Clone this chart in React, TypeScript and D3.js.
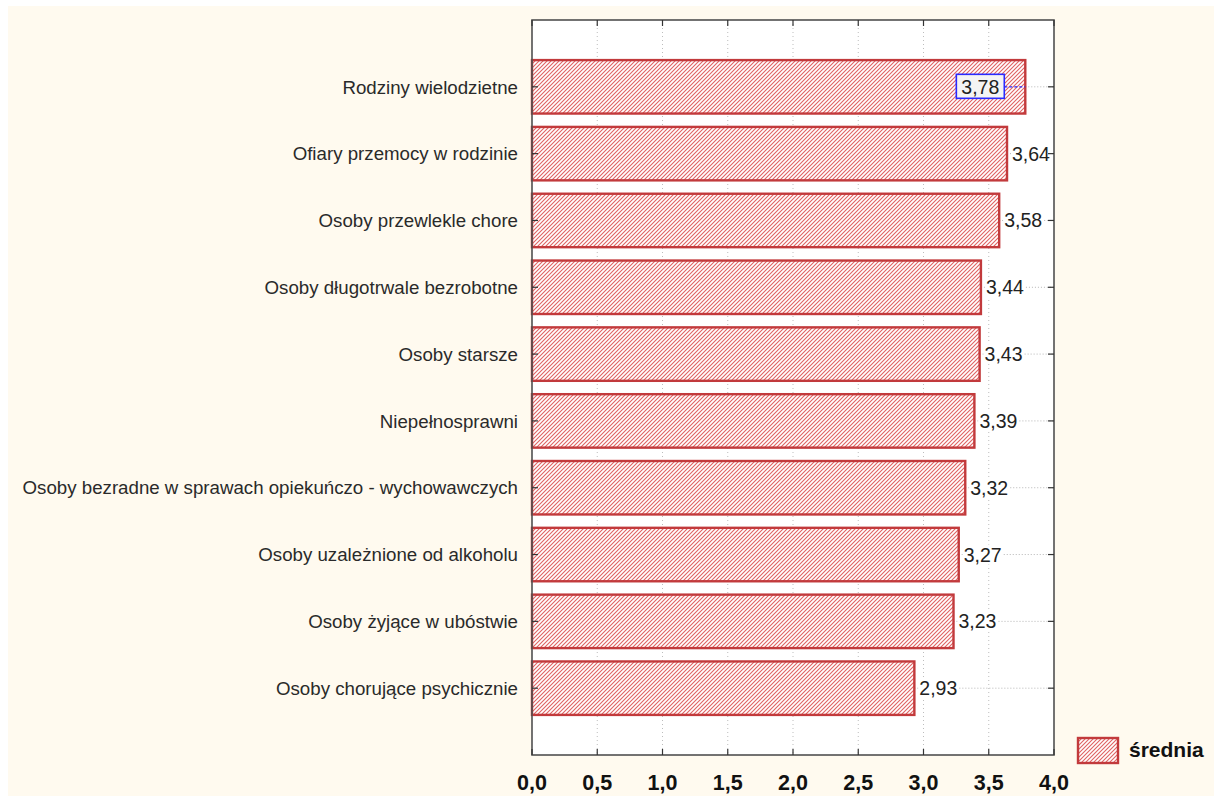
import { useEffect, useRef } from "react";
import * as d3 from "d3";

const categories = [
  "Rodziny wielodzietne",
  "Ofiary przemocy w rodzinie",
  "Osoby przewlekle chore",
  "Osoby długotrwale bezrobotne",
  "Osoby starsze",
  "Niepełnosprawni",
  "Osoby bezradne w sprawach opiekuńczo - wychowawczych",
  "Osoby uzależnione od alkoholu",
  "Osoby żyjące w ubóstwie",
  "Osoby chorujące psychicznie",
];
const means = [3.78, 3.64, 3.58, 3.44, 3.43, 3.39, 3.32, 3.27, 3.23, 2.93];
const xTicks = [0, 0.5, 1, 1.5, 2, 2.5, 3, 3.5, 4];
const seriesName = "średnia";

const W = 1214;
const H = 796;
const FONT = "'Liberation Sans', Arial, sans-serif";
const RED = "#c23a3c";
const HATCH = "#e06262";

function App() {
  const ref = useRef<SVGSVGElement>(null);

  useEffect(() => {
    if (!ref.current) return;
    const svg = d3.select(ref.current);
    svg.selectAll("*").remove();

    const left = 532;
    const right = 1054;
    const top = 20;
    const bottom = 755;

    // tło
    svg.append("rect").attr("width", W).attr("height", H).attr("fill", "#fff");
    svg
      .append("rect")
      .attr("x", 8)
      .attr("y", 6)
      .attr("width", W - 8)
      .attr("height", H - 6)
      .attr("fill", "#fffaef");

    // wzór kreskowania
    const defs = svg.append("defs");
    const pat = defs
      .append("pattern")
      .attr("id", "hatch")
      .attr("patternUnits", "userSpaceOnUse")
      .attr("width", 4)
      .attr("height", 4);
    pat.append("rect").attr("width", 4).attr("height", 4).attr("fill", "#fff");
    pat
      .append("path")
      .attr("d", "M-1,1 l2,-2 M0,4 l4,-4 M3,5 l2,-2")
      .attr("fill", "none")
      .attr("stroke", HATCH)
      .attr("stroke-width", 1.1);

    const x = d3.scaleLinear().domain([0, 4]).range([left, right]);
    const y = d3.scalePoint<string>().domain(categories).range([top, bottom]).padding(1);
    const barH = y.step() * 0.8;

    svg
      .append("rect")
      .attr("x", left)
      .attr("y", top)
      .attr("width", right - left)
      .attr("height", bottom - top)
      .attr("fill", "#fff");

    // siatka pionowa
    svg
      .append("g")
      .selectAll("line")
      .data(xTicks.slice(1, -1))
      .enter()
      .append("line")
      .attr("x1", (d) => x(d))
      .attr("x2", (d) => x(d))
      .attr("y1", top)
      .attr("y2", bottom)
      .attr("stroke", "#bdbdbd")
      .attr("stroke-width", 1)
      .attr("stroke-dasharray", "1,3");

    const data = categories.map((c, i) => ({ c, v: means[i] }));
    const fmt = (v: number) => v.toFixed(2).replace(".", ",");

    const rows = svg.append("g").selectAll("g").data(data).enter().append("g");

    // linie poziome od końca słupka
    rows
      .append("line")
      .attr("x1", (d) => x(d.v))
      .attr("x2", right)
      .attr("y1", (d) => y(d.c)!)
      .attr("y2", (d) => y(d.c)!)
      .attr("stroke", "#b5b5b5")
      .attr("stroke-width", 1)
      .attr("stroke-dasharray", "1,2");

    rows
      .append("rect")
      .attr("x", x(0))
      .attr("y", (d) => y(d.c)! - barH / 2)
      .attr("width", (d) => x(d.v) - x(0))
      .attr("height", barH)
      .attr("fill", "url(#hatch)")
      .attr("stroke", RED)
      .attr("stroke-width", 2.4);

    // etykiety wartości
    const labelSize = 19.5;
    rows.each(function (d) {
      const g = d3.select(this);
      const cy = y(d.c)!;
      const t = g
        .append("text")
        .attr("y", cy + labelSize * 0.36)
        .style("font-family", FONT)
        .style("font-size", `${labelSize}px`)
        .style("fill", "#222")
        .text(fmt(d.v));
      const tw = (t.node() as SVGTextElement).getComputedTextLength();
      const end = x(d.v);
      if (end + 5 + tw <= right) {
        g.insert("rect", "text")
          .attr("x", end + 4)
          .attr("y", cy - 10)
          .attr("width", tw + 2)
          .attr("height", 20)
          .attr("fill", "#fff");
        t.attr("x", end + 5);
      } else {
        const bw = tw + 10;
        const bx = end - 21 - bw;
        g.insert("line", "text")
          .attr("x1", bx + bw)
          .attr("x2", end)
          .attr("y1", cy)
          .attr("y2", cy)
          .attr("stroke", "#2a2aff")
          .attr("stroke-width", 1.3)
          .attr("stroke-dasharray", "3,2");
        g.insert("rect", "text")
          .attr("x", bx)
          .attr("y", cy - 12.5)
          .attr("width", bw)
          .attr("height", 24)
          .attr("fill", "#f4f4f4")
          .attr("stroke", "#2a2aff")
          .attr("stroke-width", 1.6);
        t.attr("x", bx + 5);
      }
    });

    // ramka wykresu
    svg
      .append("rect")
      .attr("x", left)
      .attr("y", top)
      .attr("width", right - left)
      .attr("height", bottom - top)
      .attr("fill", "none")
      .attr("stroke", "#505050")
      .attr("stroke-width", 1.6);

    // znaczniki
    const tk = svg.append("g").attr("stroke", "#333").attr("stroke-width", 1.2);
    xTicks.forEach((t) => {
      tk.append("line").attr("x1", x(t)).attr("x2", x(t)).attr("y1", top).attr("y2", top + 6);
      tk.append("line").attr("x1", x(t)).attr("x2", x(t)).attr("y1", bottom).attr("y2", bottom - 6);
    });
    categories.forEach((c) => {
      tk.append("line").attr("x1", left).attr("x2", left + 6).attr("y1", y(c)!).attr("y2", y(c)!);
      tk.append("line").attr("x1", right).attr("x2", right - 6).attr("y1", y(c)!).attr("y2", y(c)!);
    });

    // etykiety osi X
    svg
      .append("g")
      .selectAll("text")
      .data(xTicks)
      .enter()
      .append("text")
      .attr("x", (d) => x(d))
      .attr("y", 790)
      .attr("text-anchor", "middle")
      .style("font-family", FONT)
      .style("font-size", "21.5px")
      .style("font-weight", "bold")
      .style("fill", "#111")
      .text((d) => d.toFixed(1).replace(".", ","));

    // etykiety kategorii
    svg
      .append("g")
      .selectAll("text")
      .data(categories)
      .enter()
      .append("text")
      .attr("x", 518)
      .attr("y", (d) => y(d)! + 18.7 * 0.36)
      .attr("text-anchor", "end")
      .style("font-family", FONT)
      .style("font-size", "18.7px")
      .style("fill", "#2a2a2a")
      .text((d) => d);

    // legenda
    svg
      .append("rect")
      .attr("x", 1078)
      .attr("y", 738)
      .attr("width", 40)
      .attr("height", 25)
      .attr("fill", "url(#hatch)")
      .attr("stroke", RED)
      .attr("stroke-width", 2.4);
    svg
      .append("text")
      .attr("x", 1129)
      .attr("y", 757)
      .style("font-family", FONT)
      .style("font-size", "21px")
      .style("font-weight", "bold")
      .style("fill", "#111")
      .text(seriesName);
  }, []);

  return (
    <svg
      ref={ref}
      width={W}
      height={H}
      style={{ position: "absolute", left: 0, top: 0, display: "block" }}
    />
  );
}

export default App;
